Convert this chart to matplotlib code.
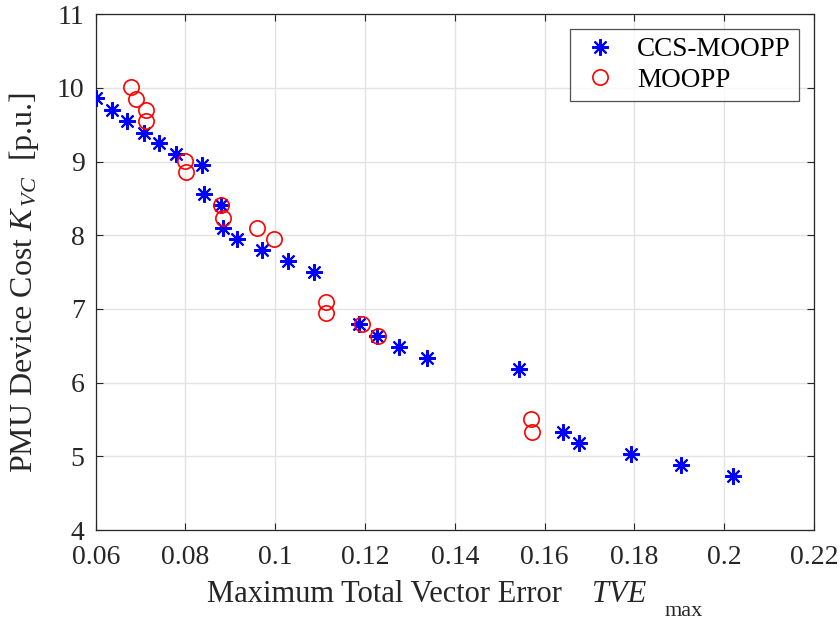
import matplotlib
matplotlib.use("Agg")
import matplotlib.pyplot as plt

plt.rcParams['font.family'] = ['Liberation Serif', 'DejaVu Serif']
plt.rcParams['mathtext.fontset'] = 'custom'
plt.rcParams['mathtext.rm'] = 'Liberation Serif'
plt.rcParams['mathtext.it'] = 'Liberation Serif:italic'

ccs_x = [0.0601, 0.0637, 0.0670, 0.0708, 0.0740, 0.0778, 0.0836, 0.0842,
         0.0878, 0.0883, 0.0914, 0.0970, 0.1028, 0.1086, 0.1187, 0.1227,
         0.1276, 0.1339, 0.1542, 0.1640, 0.1676, 0.1792, 0.1904, 0.2020]
ccs_y = [9.86, 9.70, 9.55, 9.39, 9.25, 9.10, 8.95, 8.56,
         8.41, 8.10, 7.95, 7.80, 7.65, 7.50, 6.80, 6.64,
         6.49, 6.34, 6.19, 5.33, 5.18, 5.03, 4.88, 4.73]

moopp_x = [0.0679, 0.0690, 0.0711, 0.0711, 0.0800, 0.0802, 0.0878, 0.0883,
           0.0959, 0.0997, 0.1113, 0.1113, 0.1193, 0.1229, 0.1569, 0.1571]
moopp_y = [10.01, 9.85, 9.70, 9.55, 9.01, 8.86, 8.41, 8.24,
           8.10, 7.95, 7.09, 6.94, 6.79, 6.64, 5.50, 5.33]

xticks = [0.06, 0.08, 0.1, 0.12, 0.14, 0.16, 0.18, 0.2, 0.22]
xticklabels = ['0.06', '0.08', '0.1', '0.12', '0.14', '0.16', '0.18', '0.2', '0.22']
yticks = [4, 5, 6, 7, 8, 9, 10, 11]

W, H = 840, 620
fig = plt.figure(figsize=(8.4, 6.2), dpi=100)
ax = fig.add_axes([95.7/W, 1-530/H, (814-95.7)/W, (530-14.3)/H])

ax.plot(ccs_x, ccs_y, linestyle='none', marker=(8, 2, 0), markersize=12,
        markeredgewidth=1.5, color='#0000ff', label='CCS-MOOPP', zorder=3)
ax.plot(moopp_x, moopp_y, linestyle='none', marker='o', markersize=11,
        markerfacecolor='none', markeredgewidth=1.2, markeredgecolor='#ff0000',
        label='MOOPP', zorder=4)

ax.set_xlim(0.06, 0.22)
ax.set_ylim(4, 11)
ax.set_xticks(xticks)
ax.set_xticklabels(xticklabels)
ax.set_yticks(yticks)
ax.grid(True, color='#e3e3e3', linewidth=1.0)
ax.set_axisbelow(True)
ax.tick_params(direction='in', length=5, width=0.8, top=True, right=True,
               labelsize=20, colors='#262626', labelcolor='#262626')
ax.tick_params(axis='x', pad=11)
ax.tick_params(axis='y', pad=8)
for s in ax.spines.values():
    s.set_color('#262626')
    s.set_linewidth(0.9)

# x label: main part, italic symbol and lowered subscript (as in the original)
fig.text(207/W, 1-602/H, 'Maximum Total Vector Error',
         fontsize=22, color='#262626', ha='left', va='baseline')
fig.text(592/W, 1-602/H, 'TVE', fontsize=22, style='italic',
         color='#262626', ha='left', va='baseline')
fig.text(665/W, 1-616/H, 'max', fontsize=16, color='#262626',
         ha='left', va='baseline')

ax.set_ylabel(r'PMU Device Cost $K_{\,VC}$  [p.u.]', fontsize=23,
              color='#262626')
ax.yaxis.set_label_coords(-0.076, 0.48)

leg = ax.legend(loc='upper right', fontsize=19.5, frameon=True, fancybox=False,
                edgecolor='#262626', borderaxespad=0.55, handletextpad=0.55,
                borderpad=0.3, labelspacing=0.2, handlelength=1.65)
leg.get_frame().set_linewidth(0.9)

fig.savefig('out.png', dpi=100)
